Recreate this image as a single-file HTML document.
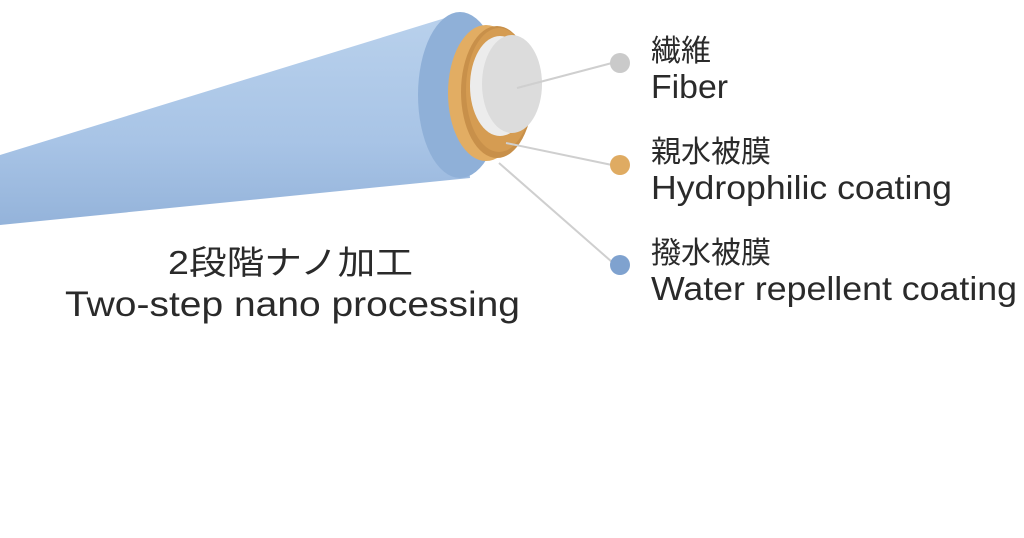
<!DOCTYPE html>
<html><head><meta charset="utf-8"><style>
html,body{margin:0;padding:0;background:#fff;width:1024px;height:538px;overflow:hidden}
svg{display:block}
text{font-family:"Liberation Sans","Noto Sans CJK JP",sans-serif;fill:#2a2a2a}
</style></head><body>
<svg width="1024" height="538" viewBox="0 0 1024 538">
<defs>
<linearGradient id="body" x1="0" y1="0" x2="0" y2="1">
<stop offset="0" stop-color="#b9d1ec"/><stop offset="0.6" stop-color="#a8c4e6"/><stop offset="1" stop-color="#94b3da"/>
</linearGradient>
</defs>
<path d="M0,155 L455,15 L470,178 L0,225 Z" fill="url(#body)"/>
<ellipse cx="460" cy="95" rx="42" ry="83" fill="#8fb0d8"/>
<ellipse cx="486" cy="93" rx="38" ry="68" fill="#e2ad63"/>
<ellipse cx="497" cy="92" rx="36" ry="66" fill="#c8904a"/>
<ellipse cx="499" cy="90" rx="33" ry="62" fill="#d59c52"/>
<ellipse cx="500" cy="86" rx="30" ry="50" fill="#ececec"/>
<ellipse cx="512" cy="84" rx="30" ry="49" fill="#dcdcdc"/>
<line x1="517" y1="88" x2="612" y2="63" stroke="#cfcfcf" stroke-width="2"/>
<line x1="506" y1="143" x2="612" y2="165" stroke="#cfcfcf" stroke-width="2"/>
<line x1="499" y1="163" x2="612" y2="262" stroke="#cfcfcf" stroke-width="2"/>
<circle cx="620" cy="63" r="10" fill="#cacaca"/>
<circle cx="620" cy="165" r="10" fill="#dfab62"/>
<circle cx="620" cy="265" r="10" fill="#7fa2cf"/>
<text x="651" y="61" font-size="30">繊維</text>
<text x="651" y="98" font-size="33" textLength="77" lengthAdjust="spacingAndGlyphs">Fiber</text>
<text x="651" y="162" font-size="30">親水被膜</text>
<text x="651" y="199" font-size="33" textLength="301" lengthAdjust="spacingAndGlyphs">Hydrophilic coating</text>
<text x="651" y="263" font-size="30">撥水被膜</text>
<text x="651" y="300" font-size="33" textLength="366" lengthAdjust="spacingAndGlyphs">Water repellent coating</text>
<text x="168" y="274" font-size="33" textLength="245" lengthAdjust="spacingAndGlyphs">2段階ナノ加工</text>
<text x="65" y="316" font-size="35" textLength="455" lengthAdjust="spacingAndGlyphs">Two-step nano processing</text>
</svg>
</body></html>
